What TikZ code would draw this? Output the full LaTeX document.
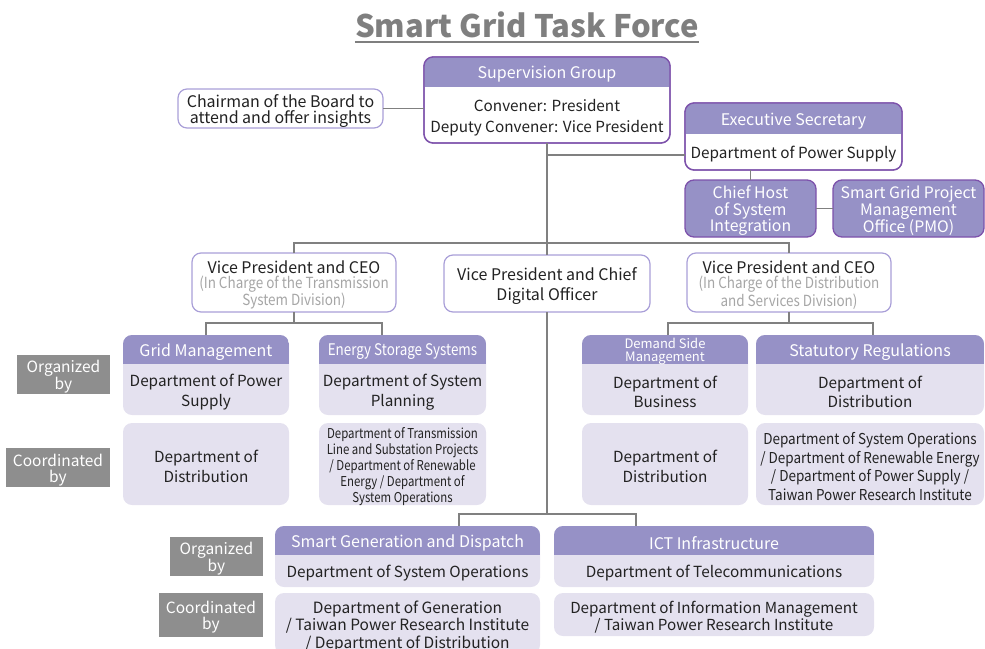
\documentclass[tikz,border=0pt]{standalone}
\usepackage{fontspec}
\setmainfont{Noto Sans CJK TC}
\newfontfamily\cnd{Noto Sans CJK TC}[FakeStretch=0.84]
\newfontfamily\cnds{Noto Sans CJK TC}[FakeStretch=0.88]
\newfontfamily\cndb{Noto Sans CJK TC}[FakeStretch=0.9]
\usetikzlibrary{calc}
\definecolor{hdr}{HTML}{9691C6}
\definecolor{bodyc}{HTML}{E4E1EF}
\definecolor{pur}{HTML}{7D52AB}
\definecolor{lav}{HTML}{A99FD8}
\definecolor{lnc}{HTML}{808080}
\definecolor{lbl}{HTML}{8E8E8E}
\definecolor{ttl}{HTML}{7F7F7F}
\definecolor{txtc}{HTML}{222222}
\definecolor{subc}{HTML}{A6A6A6}
\tikzset{
  conn/.style={draw=lnc, line width=1.2pt},
  boxn/.style={anchor=north west, inner sep=0pt, outer sep=0pt, rounded corners=9pt},
  whitebox/.style={fill=white, draw=lav, line width=1.2pt},
  purbox/.style={fill=white, draw=pur, line width=1.3pt},
  solidbox/.style={fill=hdr, draw=pur, line width=1.3pt},
  lightbox/.style={fill=bodyc},
  lblbox/.style={fill=lbl, rounded corners=0pt},
  anytxt/.style={inner sep=0pt, align=center, yshift=-2.5pt},
  hdrtxt/.style={anytxt, text=white, font=\fontsize{16}{19}\selectfont},
  bodytxt/.style={anytxt, text=txtc, font=\fontsize{15.3}{19.5}\selectfont},
  bigtxt/.style={anytxt, text=txtc, font=\fontsize{16}{16.5}\selectfont},
  soltxt/.style={anytxt, text=white, font=\fontsize{15.8}{16.5}\selectfont},
  lbltxt/.style={anytxt, text=white, font=\fontsize{15.5}{16}\selectfont},
}
\newcommand\subl[1]{{\cnds\fontsize{15.3}{15}\selectfont\color{subc}#1}}
% shape style, text style, name, x1, y1, x2, y2, text
\newcommand\bx[8]{%
  \node[boxn, #1, minimum width={#6-#4}, minimum height={#7-#5}] (#3) at (#4,#5) {};
  \node[#2] (#3-t) at (#3) {#8};}
% [style], name, header bottom y, header text
\newcommand\hd[4][]{%
  \begin{scope}
    \clip[rounded corners=9pt] (#2.north west) rectangle (#2.south east);
    \fill[hdr] (#2.north west) rectangle (#2.east |- 0,#3);
  \end{scope}
  \node[hdrtxt,#1] (#2-h) at ($(#2.north)!0.5!(#2.north |- 0,#3)$) {#4};}
% [style], name, header bottom y, body text
\newcommand\bd[4][]{\node[bodytxt,#1] (#2-b) at ($(#2.south)!0.5!(#2.south |- 0,#3)$) {#4};}
\begin{document}
\begin{tikzpicture}[x=1pt,y=-1pt]
\useasboundingbox (0,0) rectangle (985,648);
% title
\node[anchor=base, inner sep=0pt, text=ttl, font=\fontsize{31}{36}\selectfont\bfseries] (title) at (527,37) {Smart Grid Task Force};
\draw[ttl, line width=1.6pt] ([yshift=-5pt]title.base west) -- ([yshift=-5pt]title.base east);

% boxes
\bx{purbox}{bodytxt}{sup}{424}{57}{670}{143}{}
\bx{whitebox}{bigtxt}{chm}{178}{89}{383}{128}{Chairman of the Board to\\attend and offer insights}
\bx{purbox}{bodytxt}{exs}{685}{103}{902}{170}{}
\bx{solidbox}{soltxt}{chh}{685}{180}{816}{237}{Chief Host\\of System\\Integration}
\bx{solidbox}{soltxt}{pmo}{833}{180}{984}{237}{Smart Grid Project\\Management\\Office (PMO)}
\bx{whitebox}{bigtxt, font=\fontsize{16}{15.3}\selectfont}{vpt}{192}{253}{396}{312}{Vice President and CEO\\\subl{(In Charge of the Transmission}\\\subl{System Division)}}
\bx{whitebox}{bigtxt, font=\fontsize{16}{19.5}\selectfont}{vpd}{444}{255}{650}{312}{Vice President and Chief\\Digital Officer}
\bx{whitebox}{bigtxt, font=\fontsize{16}{15.3}\selectfont}{vpdist}{687}{253}{891}{312}{Vice President and CEO\\\subl{(In Charge of the Distribution}\\\subl{and Services Division)}}

\bx{lightbox}{bodytxt}{gm}{123}{335}{289}{415}{}
\bx{lightbox}{bodytxt}{gmc}{123}{423}{289}{505}{Department of\\Distribution}
\bx{lightbox}{bodytxt}{es}{319}{335}{486}{415}{}
\bx{lightbox}{bodytxt, font=\cnd\fontsize{13.6}{16}\selectfont}{esc}{319}{423}{486}{505}{Department of Transmission\\Line and Substation Projects\\/ Department of Renewable\\Energy / Department of\\System Operations}
\bx{lightbox}{bodytxt}{dsm}{582}{335}{748}{415}{}
\bx{lightbox}{bodytxt}{dsmc}{582}{423}{748}{505}{Department of\\Distribution}
\bx{lightbox}{bodytxt}{sr}{756}{335}{984}{415}{}
\bx{lightbox}{bodytxt, font=\cndb\fontsize{15}{18.5}\selectfont}{src}{756}{423}{984}{505}{Department of System Operations\\/ Department of Renewable Energy\\/ Department of Power Supply /\\Taiwan Power Research Institute}
\bx{lightbox}{bodytxt}{sg}{275}{526}{540}{587}{}
\bx{lightbox}{bodytxt, font=\fontsize{15.5}{17.5}\selectfont}{sgc}{275}{593}{540}{654}{Department of Generation\\/ Taiwan Power Research Institute\\/ Department of Distribution}
\bx{lightbox}{bodytxt}{ict}{554}{526}{874}{587}{}
\bx{lightbox}{bodytxt, font=\fontsize{15.2}{17.5}\selectfont}{ictc}{554}{593}{874}{636}{Department of Information Management\\/ Taiwan Power Research Institute}

\bx{lblbox}{lbltxt}{org1}{17}{355}{110}{394}{Organized\\by}
\bx{lblbox}{lbltxt}{coo1}{6}{448}{110}{487}{Coordinated\\by}
\bx{lblbox}{lbltxt}{org2}{170}{537}{263}{576}{Organized\\by}
\bx{lblbox}{lbltxt}{coo2}{159}{593}{263}{637}{Coordinated\\by}

% headers and bodies
\hd{sup}{87}{Supervision Group}
\bd[font=\fontsize{15.3}{20.5}\selectfont]{sup}{87}{Convener: President\\Deputy Convener: Vice President}
\draw[pur, line width=1.3pt, rounded corners=9pt] (sup.north west) rectangle (sup.south east);
\hd{exs}{134}{Executive Secretary}
\bd{exs}{134}{Department of Power Supply}
\draw[pur, line width=1.3pt, rounded corners=9pt] (exs.north west) rectangle (exs.south east);
\hd{gm}{364}{Grid Management}
\bd{gm}{364}{Department of Power\\Supply}
\hd[font=\cnd\fontsize{16}{19}\selectfont]{es}{364}{Energy Storage Systems}
\bd{es}{364}{Department of System\\Planning}
\hd[font=\fontsize{13}{12.5}\selectfont, yshift=0.5pt]{dsm}{364}{Demand Side\\Management}
\bd{dsm}{364}{Department of\\Business}
\hd{sr}{364}{Statutory Regulations}
\bd{sr}{364}{Department of\\Distribution}
\hd{sg}{555}{Smart Generation and Dispatch}
\bd{sg}{555}{Department of System Operations}
\hd{ict}{555}{ICT Infrastructure}
\bd{ict}{555}{Department of Telecommunications}

% connectors
\draw[conn] (chm.east) -- (chm.east -| sup.west);
\draw[conn] (sup.south) -- (sup.south |- vpd.north);
\draw[conn] (sup.south |- 0,155) -- (exs.west |- 0,155);
\draw[conn] (vpt.north) |- (vpdist.north |- 0,243) -- (vpdist.north);
\draw[conn] (exs.south -| chh.north) -- (chh.north);
\draw[conn] (chh.east) -- (pmo.west);
\draw[conn] (vpt.south) -- (vpt.south |- 0,323);
\draw[conn] (gm.north) |- (382,323) -- (es.north -| 382,0);
\draw[conn] (vpdist.south) -- (vpdist.south |- 0,323);
\draw[conn] (dsm.north -| 668,0) |- (873,323) -- (sr.north -| 873,0);
\draw[conn] (vpd.south) -- (vpd.south |- 0,514);
\draw[conn] (sg.north -| 459,0) |- (636,514) -- (ict.north -| 636,0);
\end{tikzpicture}
\end{document}
